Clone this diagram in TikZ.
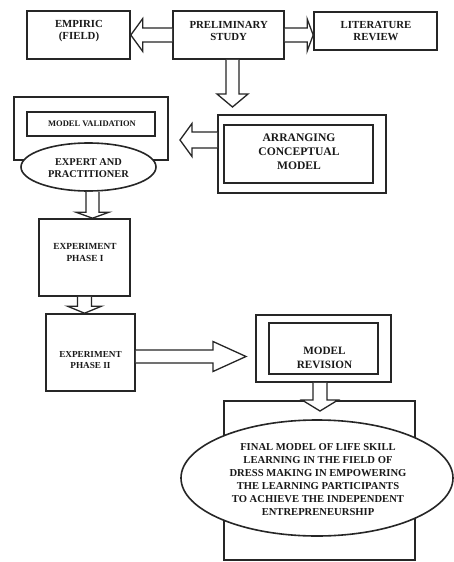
\documentclass[tikz,border=0pt]{standalone}
\usepackage{fontspec}
\setmainfont{Liberation Serif}
\usetikzlibrary{calc,shapes.geometric}
\tikzset{
  box/.style={draw=black!85, line width=1.6pt, minimum width=#1, inner sep=0pt},
  oval/.style={ellipse, draw=black!85, line width=1.6pt, fill=white, inner sep=0pt},
  txt/.style={align=center, inner sep=0pt, font=\bfseries\fontsize{#1}{#1}\selectfont, text=black!90},
  barrow/.style={draw=black!85, fill=white, line width=1.3pt, line join=miter},
}
\newcommand\harrowshape[5]{%
  \path[barrow] let \p1=(#1), \p2=(#2), \n1={ifthenelse(\x2>\x1,1,-1)} in
   (\x1,\y2+#3) -- (\x2-\n1*#5,\y2+#3) -- (\x2-\n1*#5,\y2+#4) -- (\x2,\y2)
   -- (\x2-\n1*#5,\y2-#4) -- (\x2-\n1*#5,\y2-#3) -- (\x1,\y2-#3);}
\newcommand\varrowshape[5]{%
  \path[barrow] let \p1=(#1), \p2=(#2), \n1={ifthenelse(\y2>\y1,1,-1)} in
   (\x2+#3,\y1) -- (\x2+#3,\y2-\n1*#5) -- (\x2+#4,\y2-\n1*#5) -- (\x2,\y2)
   -- (\x2-#4,\y2-\n1*#5) -- (\x2-#3,\y2-\n1*#5) -- (\x2-#3,\y1);}
\begin{document}
\begin{tikzpicture}[x=1pt,y=-1pt]
\useasboundingbox[fill=white] (0,0) rectangle (454,562);
% boxes
\node[box=103pt, minimum height=48pt] (emp) at (78.5,35) {};
\node[box=111pt, minimum height=48pt] (pre) at (228.5,35) {};
\node[box=123pt, minimum height=38pt] (lit) at (375.5,31) {};
\node[box=154pt, minimum height=63pt] (valout) at (91,128.5) {};
\node[box=128pt, minimum height=24pt] (valin) at (91,124) {};
\node[box=168pt, minimum height=78pt] (arrout) at (302,154) {};
\node[box=149pt, minimum height=58pt] (arrin) at (298.5,154) {};
\node[box=91pt, minimum height=77pt] (ex1) at (84.5,257.5) {};
\node[box=89pt, minimum height=77pt] (ex2) at (90.5,352.5) {};
\node[box=135pt, minimum height=67pt] (revout) at (323.5,348.5) {};
\node[box=109pt, minimum height=51pt] (revin) at (323.5,348.5) {};
\node[box=191pt, minimum height=159pt] (fin) at (319.5,480.5) {};
% ellipses
\node[oval, minimum width=135pt, minimum height=48pt] (expel) at (88.5,167) {};
\node[oval, minimum width=272pt, minimum height=116pt] (finel) at (317,478) {};
% texts
\node[txt=10.8] (empt) at (79,31) {EMPIRIC\\[1.5pt](FIELD)};
\node[txt=10.8] (pret) at (228.7,31) {PRELIMINARY\\[1.5pt]STUDY};
\node[txt=10.8] (litt) at (376,31) {LITERATURE\\[1.5pt]REVIEW};
\node[txt=8.5] (valt) at (92,124) {MODEL VALIDATION};
\node[txt=11.6] (arrt) at (299,152) {ARRANGING\\[2.4pt]CONCEPTUAL\\[2.4pt]MODEL};
\node[txt=10.4] (expt) at (88.5,168) {EXPERT AND\\[1.3pt]PRACTITIONER};
\node[txt=9.3] (ex1t) at (85,252.5) {EXPERIMENT\\[2pt]PHASE I};
\node[txt=9.2] (ex2t) at (90.5,360.5) {EXPERIMENT\\[1.8pt]PHASE II};
\node[txt=11.2] (revt) at (324.5,357.5) {MODEL\\[2.8pt]REVISION};
\node[txt=10.6] (fint) at (318,479.5) {FINAL MODEL OF LIFE SKILL\\[2.4pt]LEARNING IN THE FIELD OF\\[2.4pt]DRESS MAKING IN EMPOWERING\\[2.4pt]THE LEARNING PARTICIPANTS\\[2.4pt]TO ACHIEVE THE INDEPENDENT\\[2.4pt]ENTREPRENEURSHIP};
% arrow coordinates
\coordinate (a2t) at (lit.west |- pre.east);
\coordinate (a3s) at ([xshift=4pt]pre.south);
\coordinate (a3t) at (232.5,107);
\coordinate (a4t) at (180,140);
\coordinate (a4s) at (arrout.west |- a4t);
\coordinate (a5s) at ([xshift=4pt]expel.south);
\coordinate (a5t) at (a5s |- ex1.north);
\coordinate (a6t) at (ex1.south |- ex2.north);
\coordinate (a7t) at (246,356.5);
\coordinate (a7s) at (ex2.east |- a7t);
\coordinate (a8t) at (320,411);
\coordinate (a8s) at (revout.south -| a8t);
% arrows
\harrowshape{pre.west}{emp.east}{7pt}{16.5pt}{12pt}
\harrowshape{pre.east}{a2t}{7pt}{16pt}{6pt}
\varrowshape{a3s}{a3t}{6.5pt}{15.5pt}{13pt}
\harrowshape{a4s}{a4t}{8pt}{16.5pt}{12pt}
\varrowshape{a5s}{a5t}{6.5pt}{16.5pt}{6pt}
\varrowshape{ex1.south}{a6t}{7pt}{17pt}{7pt}
\harrowshape{a7s}{a7t}{6.5pt}{15pt}{33pt}
\varrowshape{a8s}{a8t}{7pt}{18pt}{11pt}
\end{tikzpicture}
\end{document}
